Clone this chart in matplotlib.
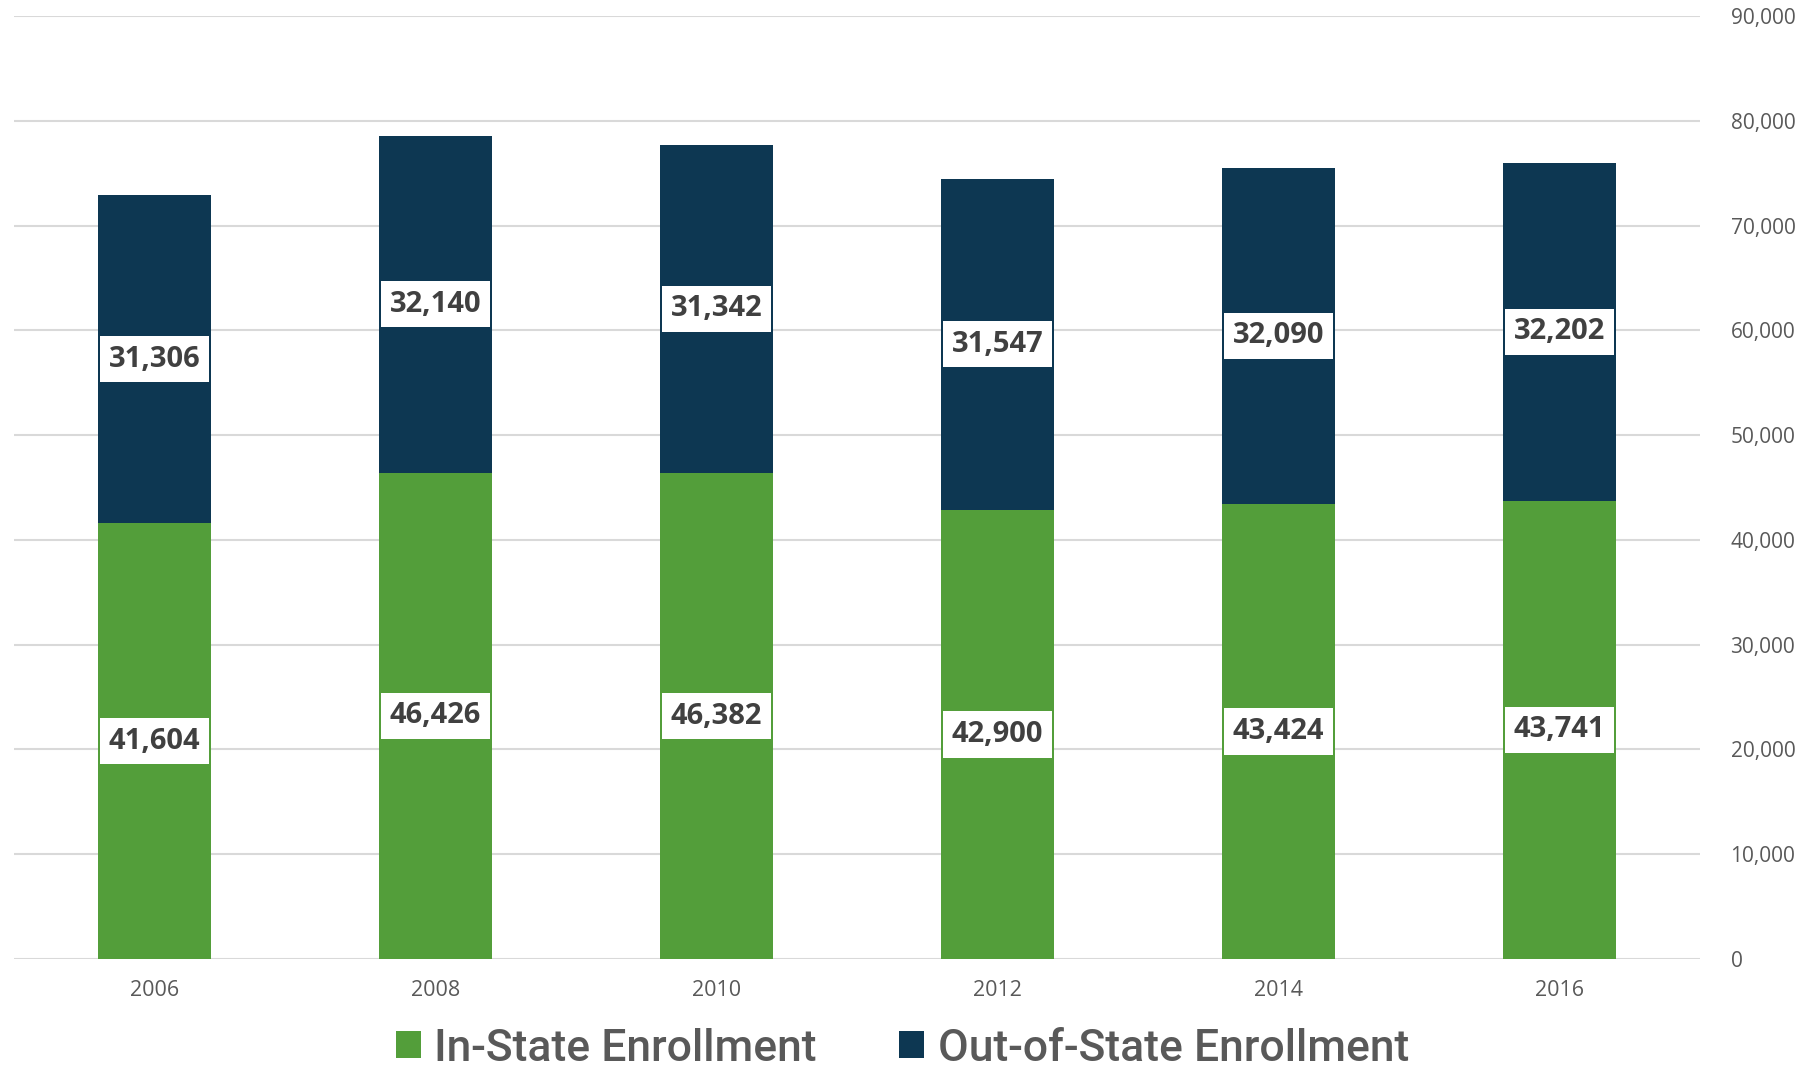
import matplotlib
matplotlib.use("Agg")
import matplotlib.pyplot as plt
from matplotlib.patches import Patch
from matplotlib.ticker import FuncFormatter
import numpy as np

years = ["2006", "2008", "2010", "2012", "2014", "2016"]
in_state = [41604, 46426, 46382, 42900, 43424, 43741]
out_state = [31306, 32140, 31342, 31547, 32090, 32202]
series_names = ["In-State Enrollment", "Out-of-State Enrollment"]
y_ticks = [0, 10000, 20000, 30000, 40000, 50000, 60000, 70000, 80000, 90000]

GREEN = "#539E3A"
NAVY = "#0D3752"
GRID = "#D9D9D9"
TXT = "#595959"

fig = plt.figure(figsize=(18.01, 10.71), dpi=100)
ax = fig.add_axes([14 / 1801, 1 - 959 / 1071, (1700 - 14) / 1801, (959 - 16) / 1071])

x = np.arange(len(years))
ax.bar(x, in_state, width=0.4, color=GREEN, zorder=3)
ax.bar(x, out_state, width=0.4, bottom=in_state, color=NAVY, zorder=3)

lbl_font = dict(family=["Open Sans", "DejaVu Sans"], fontsize=21, fontweight="bold", color="#404040")
box = dict(boxstyle="square,pad=0.3", facecolor="white", edgecolor="none")
for i in range(len(years)):
    ax.text(x[i], in_state[i] / 2, f"{in_state[i]:,}", ha="center", va="center",
            bbox=box, zorder=5, **lbl_font)
    ax.text(x[i], in_state[i] + out_state[i] / 2, f"{out_state[i]:,}", ha="center", va="center",
            bbox=box, zorder=5, **lbl_font)

ax.set_xlim(-0.5, len(years) - 0.5)
ax.set_ylim(0, 90000)
ax.set_yticks(y_ticks)
ax.yaxis.set_major_formatter(FuncFormatter(lambda v, p: f"{int(v):,}"))
ax.yaxis.tick_right()
ax.set_xticks(x)
ax.set_xticklabels(years)
ax.grid(axis="y", color=GRID, linewidth=1.5, zorder=0)
for s in ax.spines.values():
    s.set_visible(False)
ax.tick_params(axis="both", length=0, colors=TXT)
ax.tick_params(axis="y", pad=22, labelsize=15)
ax.tick_params(axis="x", pad=15, labelsize=15.5)
for t in ax.get_xticklabels() + ax.get_yticklabels():
    t.set_family(["Open Sans", "DejaVu Sans"])

handles = [Patch(facecolor=GREEN, edgecolor="none"), Patch(facecolor=NAVY, edgecolor="none")]
leg = fig.legend(handles, series_names, loc="center", bbox_to_anchor=(0.501, 0.021),
                 ncol=2, frameon=False, handlelength=0.57, handleheight=0.57,
                 handletextpad=0.3, columnspacing=1.85, borderpad=0.0,
                 prop=dict(family=["Roboto", "DejaVu Sans"], size=32, weight="medium"))
for t in leg.get_texts():
    t.set_color(TXT)

fig.savefig("out.png", dpi=100)
